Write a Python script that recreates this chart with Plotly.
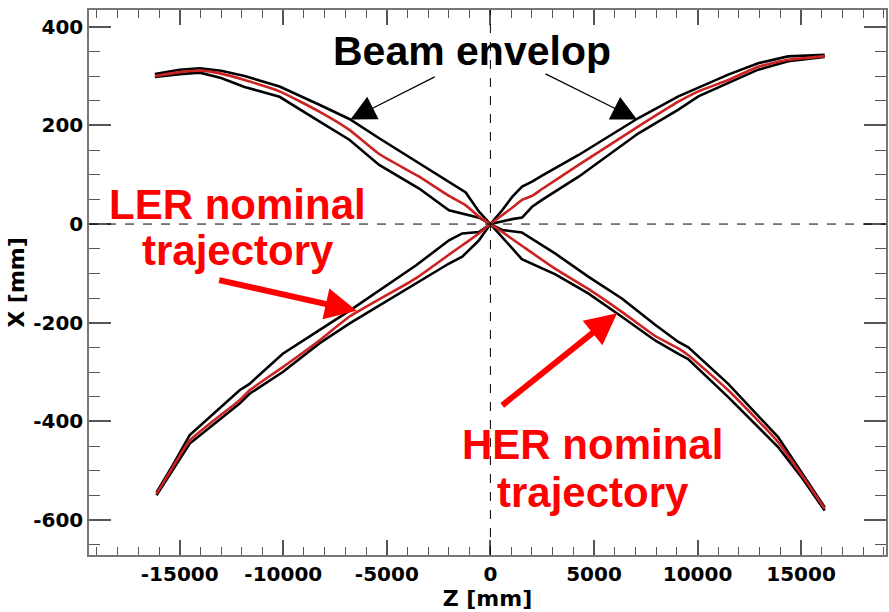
import plotly.graph_objects as go

# ---------------- data ----------------
# z [mm] and x [mm] for the four branches around the IP.
# centre = nominal trajectory, upper/lower = beam envelope edges
ul_z      = [-16200, -15000, -14030, -13000, -11870, -10180, -8260, -6810, -5370, -3440, -2000, -1190, -550, 0]
ul_center = [300, 308, 311, 305, 292, 269, 228, 191, 142, 96, 57, 38, 15, 0]
ul_upper  = [304, 313, 316, 311, 300, 279, 242, 213, 174, 123, 84, 64, 25, 0]
ul_lower  = [298, 304, 307, 296, 278, 258, 208, 171, 120, 72, 28, 20, 13, 0]

ur_z      = [0, 568, 1050, 1531, 2013, 2494, 4261, 7150, 9076, 10039, 11483, 12927, 14372, 16140]
ur_center = [0, 18, 33, 49, 57, 71, 120, 198, 248, 269, 292, 319, 333, 340]
ur_upper  = [0, 28, 55, 76, 86, 98, 140, 215, 259, 276, 303, 326, 340, 343]
ur_lower  = [0, 6, 10, 13, 35, 49, 96, 184, 232, 259, 286, 313, 330, 339]

ll_z      = [-16120, -15320, -14516, -12109, -11627, -10024, -8257, -6813, -3601, -1998, -1358, -554, 0]
ll_center = [-547, -492, -439, -357, -337, -290, -236, -188, -110, -62, -43, -19, 0]
ll_upper  = [-544, -488, -428, -337, -324, -263, -215, -176, -84, -33, -19, -16, 0]
ll_lower  = [-550, -497, -445, -364, -344, -300, -242, -202, -120, -80, -66, -33, 0]

lr_z      = [0, 568, 1517, 3139, 4742, 6346, 7954, 9076, 9557, 11483, 13890, 15000, 16139]
lr_center = [0, -16, -44, -91, -132, -178, -227, -252, -266, -337, -442, -507, -577]
lr_upper  = [0, -12, -17, -60, -107, -151, -204, -239, -250, -324, -432, -502, -574]
lr_lower  = [0, -26, -71, -102, -141, -188, -236, -263, -274, -351, -452, -512, -581]

x_tickvals = [-15000, -10000, -5000, 0, 5000, 10000, 15000]
x_ticktext = ["-15000", "-10000", "-5000", "0", "5000", "10000", "15000"]
y_tickvals = [-600, -400, -200, 0, 200, 400]
y_ticktext = ["-600", "-400", "-200", "0", "200", "400"]

# ---------------- figure ----------------
fig = go.Figure()

env = dict(color="black", width=2.6)
for z, up, lo in [(ul_z, ul_upper, ul_lower), (ur_z, ur_upper, ur_lower),
                  (ll_z, ll_upper, ll_lower), (lr_z, lr_upper, lr_lower)]:
    fig.add_trace(go.Scatter(x=z, y=up, mode="lines", line=env, hoverinfo="skip", showlegend=False))
    fig.add_trace(go.Scatter(x=z, y=lo, mode="lines", line=env, hoverinfo="skip", showlegend=False))

red = dict(color="#cc2222", width=2.6, shape="spline", smoothing=0.5)
# LER: lower-left -> upper-right ; HER: upper-left -> lower-right
fig.add_trace(go.Scatter(x=ll_z + ur_z[1:], y=ll_center + ur_center[1:], mode="lines",
                         line=red, name="LER", showlegend=False))
fig.add_trace(go.Scatter(x=ul_z + lr_z[1:], y=ul_center + lr_center[1:], mode="lines",
                         line=red, name="HER", showlegend=False))

# dashed reference lines through the IP
fig.add_shape(type="line", xref="paper", yref="y", x0=0, x1=1, y0=0, y1=0,
              line=dict(color="black", width=1, dash="dash"))
fig.add_shape(type="line", xref="x", yref="paper", x0=0, x1=0, y0=0, y1=1,
              line=dict(color="black", width=1, dash="dash"))

tfont = dict(family="Liberation Sans", size=42, weight="bold")
# Beam envelop label + arrows
fig.add_annotation(x=-880, y=350, text="Beam envelop", showarrow=False,
                   font=dict(tfont, color="black", size=41), xanchor="center", yanchor="middle")
for (tz, tx, hz, hx) in [(-2616, 300, -6759, 212), (2587, 306, 7082, 212)]:
    fig.add_annotation(x=hz, y=hx, ax=tz, ay=tx, axref="x", ayref="y", xref="x", yref="y",
                       text="", showarrow=True, arrowhead=2, arrowsize=4.2, arrowwidth=1.2,
                       arrowcolor="black")

# LER / HER labels
for txt, zc, xc in [("LER nominal", -12200, 40), ("trajectory", -12200, -53),
                    ("HER nominal", 4950, -446), ("trajectory", 4950, -545)]:
    fig.add_annotation(x=zc, y=xc, text=txt, showarrow=False,
                       font=dict(tfont, color="#ff0000"), xanchor="center", yanchor="middle")
for (tz, tx, hz, hx) in [(-13167, -113, -6456, -176), (501, -370, 6118, -181)]:
    fig.add_annotation(x=hz, y=hx, ax=tz, ay=tx, axref="x", ayref="y", xref="x", yref="y",
                       text="", showarrow=True, arrowhead=2, arrowsize=1.05, arrowwidth=6,
                       arrowcolor="#ff0000")

tickfont = dict(family="DejaVu Sans", size=20, weight="bold", color="black")
titlefont = dict(family="DejaVu Sans", size=22, weight="bold", color="black")

fig.update_xaxes(range=[-19380, 19100], tickvals=x_tickvals, ticktext=x_ticktext,
                 ticks="inside", ticklen=15, tickwidth=1.5, tickcolor="#555",
                 showline=True, linecolor="#777", linewidth=1.5, mirror="ticks",
                 minor=dict(ticks="inside", ticklen=8, dtick=1000, tick0=0,
                            tickcolor="#555", tickwidth=1.2, showgrid=False),
                 showgrid=False, zeroline=False, tickfont=tickfont,
                 title=dict(text="Z [mm]", font=titlefont, standoff=4))
fig.update_yaxes(range=[-671, 434], tickvals=y_tickvals, ticktext=y_ticktext,
                 ticks="inside", ticklen=22, tickwidth=1.5, tickcolor="#555",
                 showline=True, linecolor="#777", linewidth=1.5, mirror="ticks",
                 minor=dict(ticks="inside", ticklen=11, dtick=50, tick0=0,
                            tickcolor="#555", tickwidth=1.2, showgrid=False),
                 showgrid=False, zeroline=False, tickfont=tickfont,
                 title=dict(text="X [mm]", font=titlefont, standoff=2))

fig.update_layout(width=889, height=612, margin=dict(l=89, r=1, t=10, b=57),
                  paper_bgcolor="white", plot_bgcolor="white")

fig.write_html("out.html")
